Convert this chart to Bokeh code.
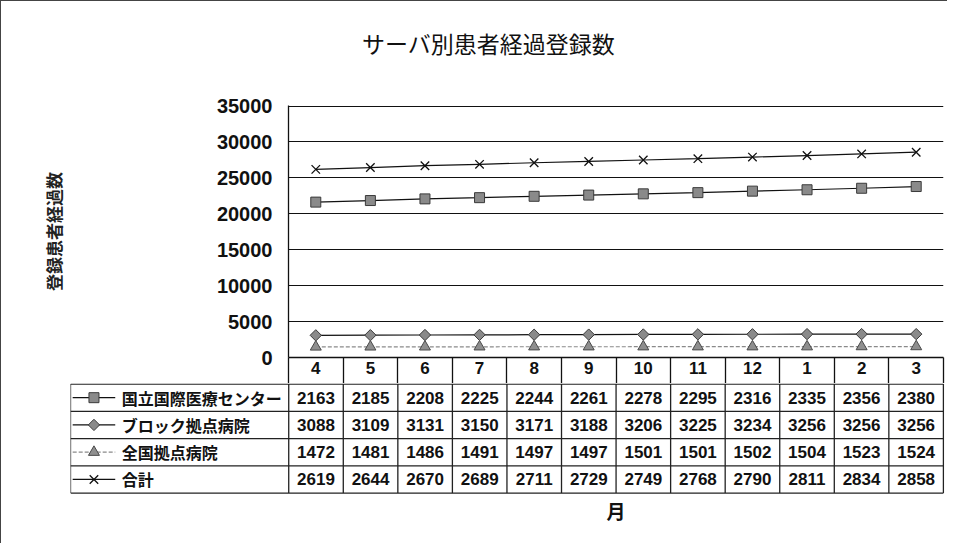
import math
from bokeh.plotting import figure
from bokeh.models import Range1d, FixedTicker, ColumnDataSource
from bokeh.layouts import column
from bokeh.embed import file_html
from bokeh.resources import INLINE
from bokeh.core.properties import value

# ---- data ----
months = ["4", "5", "6", "7", "8", "9", "10", "11", "12", "1", "2", "3"]
series_names = ["国立国際医療センター", "ブロック拠点病院", "全国拠点病院", "合計"]
kokuritsu = [21630, 21850, 22080, 22250, 22440, 22610, 22780, 22950, 23160, 23350, 23560, 23800]
block = [3088, 3109, 3131, 3150, 3171, 3188, 3206, 3225, 3234, 3256, 3256, 3256]
zenkoku = [1472, 1481, 1486, 1491, 1497, 1497, 1501, 1501, 1502, 1504, 1523, 1524]
total = [26190, 26440, 26700, 26890, 27110, 27290, 27490, 27680, 27900, 28110, 28340, 28580]
y_ticks = [0, 5000, 10000, 15000, 20000, 25000, 30000, 35000]

title_text = "サーバ別患者経過登録数"
y_title = "登録患者経過数"
x_title = "月"

series = [kokuritsu, block, zenkoku, total]
styles = [
    dict(marker="square", size=10, angle=0.0, fill="#8a8a8a", mline="#3a3a3a", line="#111111", dash="solid"),
    dict(marker="square", size=8, angle=math.pi / 4, fill="#8a8a8a", mline="#3a3a3a", line="#111111", dash="solid"),
    dict(marker="triangle", size=11, angle=0.0, fill="#8f8f8f", mline="#4a4a4a", line="#8a8a8a", dash="4 2"),
    dict(marker="x", size=12, angle=0.0, fill=None, mline="#111111", line="#111111", dash="solid"),
]

JP = value("Noto Sans CJK JP")
NUM = "Liberation Sans"
W = 946

xs = [i + 0.5 for i in range(len(months))]


def add_marker(fig, x, y, st, source=None):
    kw = dict(marker=st["marker"], size=st["size"], angle=st["angle"], line_color=st["mline"])
    if st["fill"] is None:
        kw.update(line_width=1.3)
    else:
        kw.update(fill_color=st["fill"], line_width=1)
    if source is not None:
        fig.scatter(x, y, source=source, **kw)
    else:
        fig.scatter(x=x, y=y, **kw)


def bare(fig):
    fig.axis.visible = False
    fig.grid.grid_line_color = None
    fig.outline_line_color = None
    fig.background_fill_color = "white"
    fig.border_fill_color = "white"


# ---- title strip ----
h = figure(width=W, height=60, output_backend="svg", toolbar_location=None,
           x_range=Range1d(0, W), y_range=Range1d(0, 60),
           min_border_left=0, min_border_right=0, min_border_top=0, min_border_bottom=0,
           frame_align=False)
bare(h)
h.text(x=[487], y=[19], text=[title_text], text_font=JP, text_font_size="23px",
       text_align="center", text_baseline="middle", text_color="#111111")

# ---- chart ----
p = figure(width=W, height=322, output_backend="svg", toolbar_location=None,
           x_range=Range1d(0, 12), y_range=Range1d(0, 35080),
           min_border_left=287, min_border_right=4, min_border_top=44, min_border_bottom=26,
           frame_align=False)
p.outline_line_color = None
p.background_fill_color = "white"
p.border_fill_color = "white"

p.yaxis.ticker = FixedTicker(ticks=y_ticks)
p.yaxis.major_tick_out = 0
p.yaxis.major_tick_in = 0
p.yaxis.minor_tick_out = 0
p.yaxis.minor_tick_in = 0
p.yaxis.major_label_standoff = 16
p.yaxis.major_label_text_font = NUM
p.yaxis.major_label_text_font_style = "bold"
p.yaxis.major_label_text_font_size = "20px"
p.yaxis.major_label_text_color = "#111111"
p.yaxis.axis_line_color = "#111111"
p.yaxis.axis_line_width = 1.3
p.yaxis.axis_label = y_title
p.yaxis.axis_label_text_font = "Noto Sans CJK JP"
p.yaxis.axis_label_text_font_style = "bold"
p.yaxis.axis_label_text_font_size = "17px"
p.yaxis.axis_label_text_color = "#222222"
p.yaxis.axis_label_standoff = 148

p.xaxis.ticker = FixedTicker(ticks=xs, minor_ticks=list(range(13)))
p.xaxis.major_label_overrides = {x: m for x, m in zip(xs, months)}
p.xaxis.major_tick_out = 0
p.xaxis.major_tick_in = 0
p.xaxis.minor_tick_out = 26
p.xaxis.minor_tick_in = 0
p.xaxis.minor_tick_line_color = "#111111"
p.xaxis.minor_tick_line_width = 1.3
p.xaxis.axis_line_color = "#111111"
p.xaxis.axis_line_width = 1.3
p.xaxis.major_label_standoff = -22
p.xaxis.major_label_text_font = NUM
p.xaxis.major_label_text_font_style = "bold"
p.xaxis.major_label_text_font_size = "17px"
p.xaxis.major_label_text_color = "#111111"

p.xgrid.grid_line_color = None
p.ygrid.ticker = FixedTicker(ticks=y_ticks)
p.ygrid.grid_line_color = "#111111"
p.ygrid.grid_line_width = 1.2

for vals, st in zip(series, styles):
    src = ColumnDataSource(dict(x=xs, y=vals))
    p.line("x", "y", source=src, line_color=st["line"], line_width=1.2, line_dash=st["dash"])
    add_marker(p, "x", "y", st, source=src)

# ---- data table below ----
t = figure(width=W, height=160, output_backend="svg", toolbar_location=None,
           x_range=Range1d(-4, 12.02), y_range=Range1d(-5.85, 0.02),
           min_border_left=69, min_border_right=3, min_border_top=0, min_border_bottom=0,
           frame_align=False)
bare(t)

n_rows = len(series)
hy = [-r for r in range(n_rows + 1)]
t.segment(x0=[-4] * len(hy), y0=hy, x1=[12] * len(hy), y1=hy, line_color="#222222", line_width=1.3)
vx = [-4] + list(range(13))
t.segment(x0=vx, y0=[0] * len(vx), x1=vx, y1=[-n_rows] * len(vx), line_color="#222222", line_width=1.3)

for r, (name, vals, st) in enumerate(zip(series_names, series, styles)):
    yc = -(r + 0.5)
    t.line(x=[-3.96, -3.18], y=[yc, yc], line_color=st["line"], line_width=1.2, line_dash=st["dash"])
    add_marker(t, [-3.57], [yc], st)
    t.text(x=[-3.06], y=[yc], text=[name], text_font=JP, text_font_style="bold",
           text_font_size="16px", text_align="left", text_baseline="middle", text_color="#111111")
    t.text(x=xs, y=[yc] * len(xs), text=[str(v)[:4] for v in vals], text_font=value(NUM),
           text_font_style="bold", text_font_size="17px", text_align="center",
           text_baseline="middle", text_color="#111111")

t.text(x=[6], y=[-4.65], text=[x_title], text_font=JP, text_font_style="bold",
       text_font_size="19px", text_align="center", text_baseline="middle", text_color="#111111")

layout = column(h, p, t, spacing=0,
                styles={"border-left": "1px solid #444", "border-top": "1px solid #444"})
open("out.html", "w").write(file_html(layout, INLINE))
